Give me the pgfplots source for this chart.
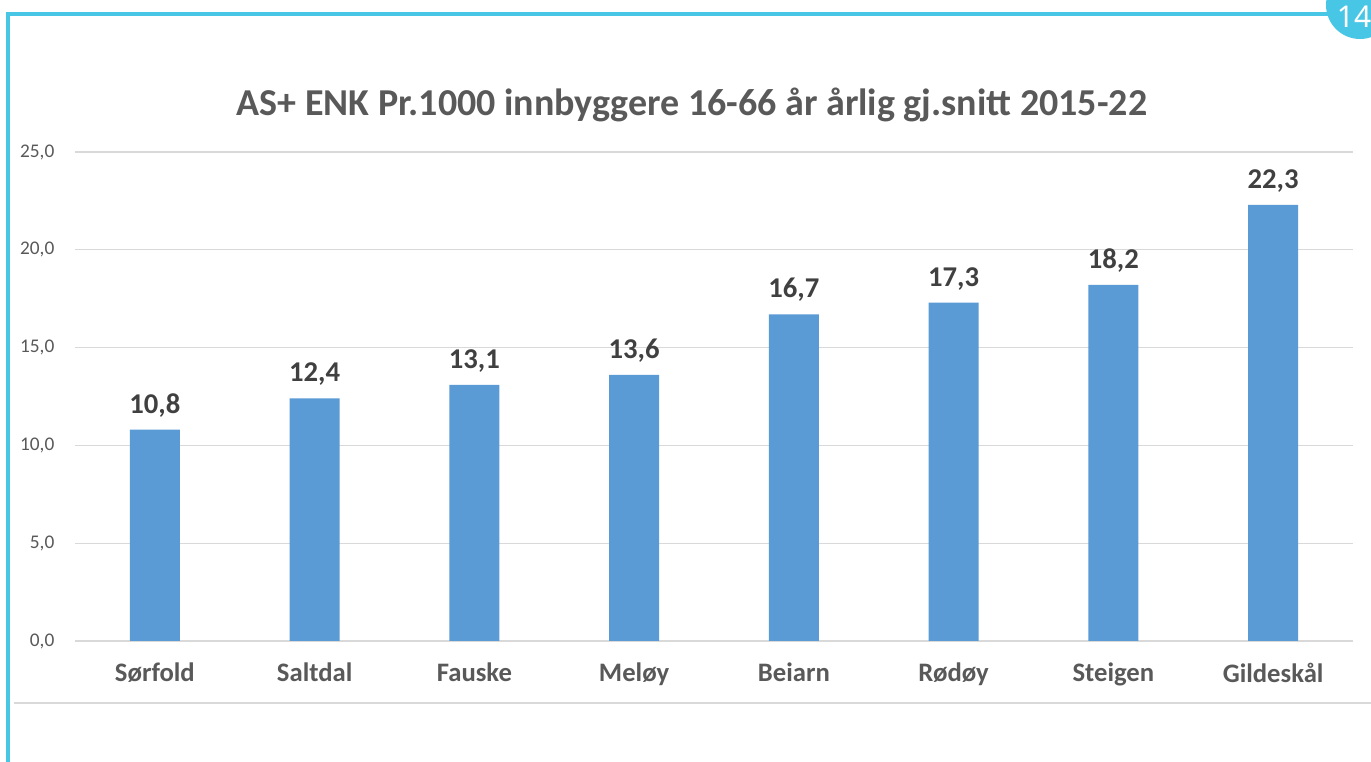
\documentclass[border=0pt]{standalone}
\usepackage{pgfplots}
\pgfplotsset{compat=1.18}
\usepackage{fontspec}
\setmainfont{Carlito}
\newfontfamily\numfont{Noto Sans}
\definecolor{barblue}{HTML}{5B9BD5}
\definecolor{gridgray}{HTML}{D9D9D9}
\definecolor{txtgray}{HTML}{595959}
\definecolor{valgray}{HTML}{404040}
\definecolor{framecyan}{HTML}{48C6E6}
\begin{document}
\begin{tikzpicture}[x=0.75pt,y=0.75pt]
\useasboundingbox (0,0) rectangle (1371,762);
\fill[white] (0,0) rectangle (1371,762);
% frame
\fill[framecyan] (6,0) rectangle (9.5,750);
\fill[framecyan] (6,745.5) rectangle (1340,750);
\begin{scope}
\clip (0,0) rectangle (1371,762);
\fill[framecyan] (1360,757) circle (34);
\node[text=white,font=\fontsize{22.5}{24}\selectfont\numfont] at (1354,745) {14};
\end{scope}
% bottom line
\draw[gridgray,line width=1.5pt] (14,59) -- (1371,59);
% title
\node[text=txtgray,font=\fontsize{28.5}{31}\selectfont\bfseries] at (692,657) {AS+ ENK Pr.1000 innbyggere 16-66 år årlig gj.snitt 2015-22};
\begin{axis}[
  at={(56.25pt,90.75pt)}, anchor=south west,
  scale only axis,
  width=958.5pt, height=366.75pt,
  xmin=-0.5, xmax=7.5, ymin=0, ymax=25,
  axis line style={draw=none},
  ytick={0,5,10,15,20,25},
  ymajorgrids, grid style={gridgray,line width=0.9pt},
  major tick length=0pt,
  xtick=data,
  xticklabels={Sørfold,Saltdal,Fauske,Meløy,Beiarn,Rødøy,Steigen,Gildeskål},
  xticklabel style={text=txtgray,font=\fontsize{20}{22}\selectfont\bfseries,yshift=-13pt},
  yticklabel style={text=txtgray,font=\fontsize{14.5}{16}\selectfont,xshift=-12pt},
  /pgf/number format/assume math mode=true,
  yticklabel={\pgfmathprintnumber[fixed,fixed zerofill,precision=1,use comma]{\tick}},
  clip=false,
]
\draw[gridgray,line width=0.9pt] (axis cs:-0.5,0) -- (axis cs:7.5,0);
\addplot[ybar,bar width=37.5pt,fill=barblue,draw=none,
  nodes near coords={\pgfmathprintnumber[fixed,fixed zerofill,precision=1,use comma,assume math mode=true]{\pgfplotspointmeta}},
  nodes near coords style={text=valgray,font=\fontsize{21.5}{24}\selectfont\bfseries,anchor=south,yshift=6pt},
] coordinates {(0,10.8) (1,12.4) (2,13.1) (3,13.6) (4,16.7) (5,17.3) (6,18.2) (7,22.3)};
\end{axis}
\end{tikzpicture}
\end{document}
